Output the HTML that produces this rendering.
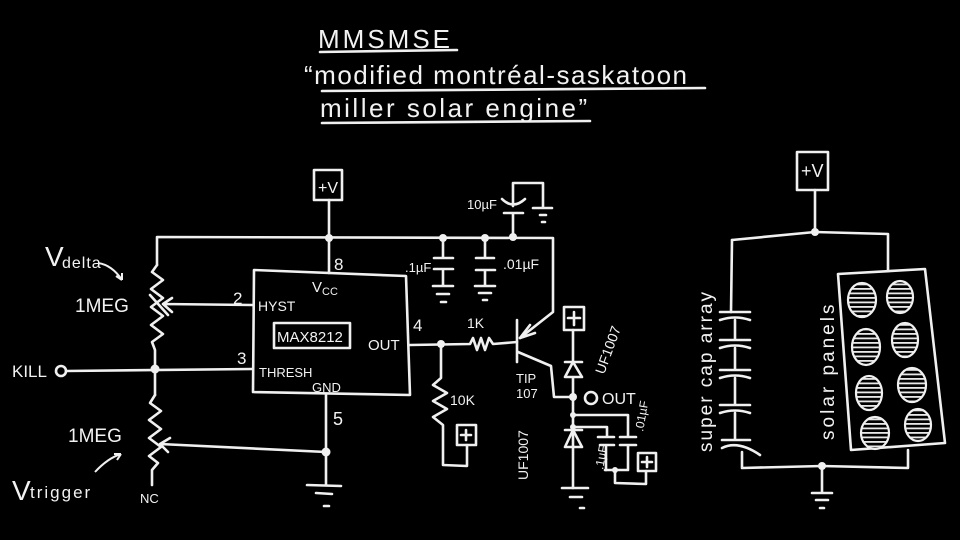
<!DOCTYPE html>
<html><head><meta charset="utf-8"><style>
html,body{margin:0;padding:0;background:#000;}
svg{display:block}
text{font-family:"Liberation Sans",sans-serif;fill:#f2f2f2;}
</style></head><body>
<svg width="960" height="540" viewBox="0 0 960 540" xmlns="http://www.w3.org/2000/svg">
<defs>
<pattern id="st" width="8" height="4.5" patternUnits="userSpaceOnUse">
<rect width="8" height="4.5" fill="#000"/><rect y="0" width="8" height="1.8" fill="#e8e8e8"/>
</pattern>
</defs>
<rect width="960" height="540" fill="#000"/>
<g stroke="#f0f0f0" stroke-width="2.6" fill="none" stroke-linecap="round" stroke-linejoin="round">
<path d="M320 52 L457 50"/>
<path d="M322 91 L705 88"/>
<path d="M322 123 L590 121"/>
<rect x="314" y="170" width="28" height="30"/>
<path d="M329 200 L329 273"/>
<path d="M157 265 L157 237 L553 238 L553 312 L520 338"/>
<path d="M520 338 L530 325 M520 338 L535 333"/>
<path d="M157 265 L152 272 L163 280 L151 289 L163 298 L151 307 L163 316 L151 325 L163 334 L152 342 L155 350 L155 395"/>
<path d="M252 305 L163 304 M150 295 L168 315 M163 304 L172 298 M163 304 L172 312"/>
<path d="M155 395 L150 403 L161 411 L149 420 L161 429 L149 438 L161 447 L149 456 L158 463 L152 470 L152 485"/>
<path d="M326 452 L160 444 M160 444 L170 438 M160 444 L168 452"/>
<circle cx="61" cy="371" r="5"/>
<path d="M66 371 L252 369"/>
<path d="M254 270 L406 276 L410 395 L253 392 Z"/>
<rect x="274" y="323" width="76" height="25"/>
<path d="M326 395 L326 485"/>
<path d="M307 485 L341 486 M316 493 L332 494 M324 506 L329 506"/>
<path d="M410 345 L470 344 L473 338 L477 350 L481 338 L485 350 L489 338 L493 344 L517 342"/>
<path d="M517 320 L517 362"/>
<path d="M518 352 L551 366 L554 397 L573 397"/>
<path d="M441 344 L441 378 L433 385 L447 393 L433 401 L447 409 L433 417 L443 425 L443 465 L467 466 L467 445"/>
<rect x="457" y="425" width="19" height="20"/>
<path d="M466 430 L466 440 M461 435 L471 435"/>
<path d="M443 238 L443 258 M434 258 L453 258 M434 269 L453 269 M443 269 L443 285 M433 286 L453 286 M437 294 L449 294 M441 302 L446 302"/>
<path d="M485 238 L485 258 M476 258 L494 258 M476 270 L495 270 M485 270 L485 285 M475 286 L495 286 M479 293 L491 293 M483 300 L487 300"/>
<path d="M513 237 L513 213 M504 213 L523 213 M502 199 Q513 210 525 199 M513 206 L513 183 L543 183 L543 207 M533 208 L552 208 M540 215 L546 215 M542 222 L545 222"/>
<rect x="564" y="307" width="20" height="23"/>
<path d="M574 312 L574 325 M568 318 L580 318"/>
<path d="M573 330 L573 362 M565 362 L582 362 M573 362 L565 377 L582 377 Z M573 377 L573 488"/>
<circle cx="591" cy="398" r="6"/>
<path d="M573 415 L628 415 L628 437 M620 437 L636 437 M620 445 L636 445 M628 445 L628 470 L605 470"/>
<path d="M573 427 L607 427 L607 437 M598 437 L614 437 M600 445 L614 445 M606 445 L606 470 M615 470 L615 483 L646 484 L646 471"/>
<rect x="638" y="453" width="18" height="18"/>
<path d="M647 457 L647 467 M642 462 L652 462"/>
<path d="M565 430 L582 430 M573 430 L565 447 L582 447 Z"/>
<path d="M562 488 L588 488 M570 497 L582 497 M580 508 L584 508"/>
<rect x="797" y="152" width="31" height="38"/>
<path d="M815 190 L815 232 M732 240 L815 232 L888 234 L888 270"/>
<path d="M732 240 L731 312"/>
<path d="M720 312 L750 312 M720 320 Q735 315 750 320 M735 320 L735 340 M720 340 L750 340 M720 348 Q735 343 750 348 M735 348 L735 370 M720 370 L750 370 M720 378 Q735 373 750 378 M735 378 L735 405 M720 405 L750 405 M720 413 Q735 408 750 413 M735 413 L735 440 M722 440 L750 440 M722 448 Q738 440 760 455"/>
<path d="M742 452 L742 468 L822 466 L908 468 L908 450"/>
<path d="M822 466 L822 493 M812 493 L832 493 M816 500 L828 500 M820 508 L824 508"/>
<path d="M838 274 L925 269 L945 443 L851 450 Z"/>
</g>
<g stroke="#f0f0f0" stroke-width="2.2" fill="url(#st)">
<ellipse cx="862" cy="300" rx="14" ry="17"/><ellipse cx="900" cy="297" rx="13" ry="16"/>
<ellipse cx="866" cy="347" rx="14" ry="18"/><ellipse cx="905" cy="340" rx="13" ry="17"/>
<ellipse cx="869" cy="393" rx="13" ry="17"/><ellipse cx="912" cy="385" rx="14" ry="17"/>
<ellipse cx="875" cy="433" rx="14" ry="16"/><ellipse cx="918" cy="425" rx="13" ry="16"/>
</g>
<g fill="#f0f0f0">
<circle cx="329" cy="238" r="4"/><circle cx="443" cy="238" r="4"/><circle cx="485" cy="238" r="4"/><circle cx="513" cy="237" r="4"/>
<circle cx="155" cy="369" r="4.5"/><circle cx="326" cy="452" r="4.5"/><circle cx="441" cy="344" r="4"/>
<circle cx="573" cy="397" r="4"/><circle cx="573" cy="415" r="3"/><circle cx="573" cy="427" r="3"/><circle cx="615" cy="470" r="3"/>
<circle cx="815" cy="232" r="4"/><circle cx="822" cy="466" r="4"/>
</g>
<g stroke="#f0f0f0" stroke-width="2" fill="none">
<path d="M98 263 Q112 265 122 280 M122 280 L116 276 M122 280 L122 273"/>
<path d="M95 472 Q108 458 121 454 M121 454 L114 454 M121 454 L117 460"/>
</g>
<text x="318" y="48" font-size="26" letter-spacing="3">MMSMSE</text>
<text x="304" y="84" font-size="26" letter-spacing="1.5">“modified  montréal-saskatoon</text>
<text x="320" y="117" font-size="26" letter-spacing="2.5">miller  solar  engine”</text>
<text x="45" y="266" font-size="28">V</text><text x="62" y="268" font-size="16" letter-spacing="1">delta</text>
<text x="75" y="312" font-size="19">1MEG</text>
<text x="68" y="442" font-size="19">1MEG</text>
<text x="12" y="500" font-size="28">V</text><text x="30" y="498" font-size="17" letter-spacing="2">trigger</text>
<text x="140" y="503" font-size="13">NC</text>
<text x="12" y="377" font-size="17">KILL</text>
<text x="334" y="270" font-size="17">8</text>
<text x="312" y="292" font-size="15">V<tspan font-size="11" dy="3">CC</tspan></text>
<text x="233" y="304" font-size="17">2</text>
<text x="258" y="311" font-size="14">HYST</text>
<text x="277" y="342" font-size="15">MAX8212</text>
<text x="368" y="350" font-size="15">OUT</text>
<text x="413" y="331" font-size="17">4</text>
<text x="237" y="364" font-size="17">3</text>
<text x="259" y="377" font-size="13">THRESH</text>
<text x="312" y="392" font-size="13">GND</text>
<text x="333" y="425" font-size="18">5</text>
<text x="405" y="272" font-size="13">.1µF</text>
<text x="503" y="269" font-size="14">.01µF</text>
<text x="467" y="209" font-size="13">10µF</text>
<text x="467" y="328" font-size="14">1K</text>
<text x="450" y="405" font-size="14">10K</text>
<text x="516" y="383" font-size="13">TIP</text>
<text x="516" y="398" font-size="13">107</text>
<text x="602" y="404" font-size="16">OUT</text>
<text transform="translate(604,375) rotate(-70)" font-size="14">UF1007</text>
<text transform="translate(528,480) rotate(-90)" font-size="14">UF1007</text>
<text transform="translate(603,470) rotate(-80)" font-size="12">.1µF</text>
<text transform="translate(643,432) rotate(-80)" font-size="12">.01µF</text>
<text transform="translate(712,452) rotate(-90)" font-size="19" letter-spacing="2">super cap array</text>
<text transform="translate(834,440) rotate(-90)" font-size="19" letter-spacing="3">solar  panels</text>
<text x="318" y="193" font-size="16">+V</text>
<text x="801" y="177" font-size="18">+V</text>
</svg>
</body></html>
